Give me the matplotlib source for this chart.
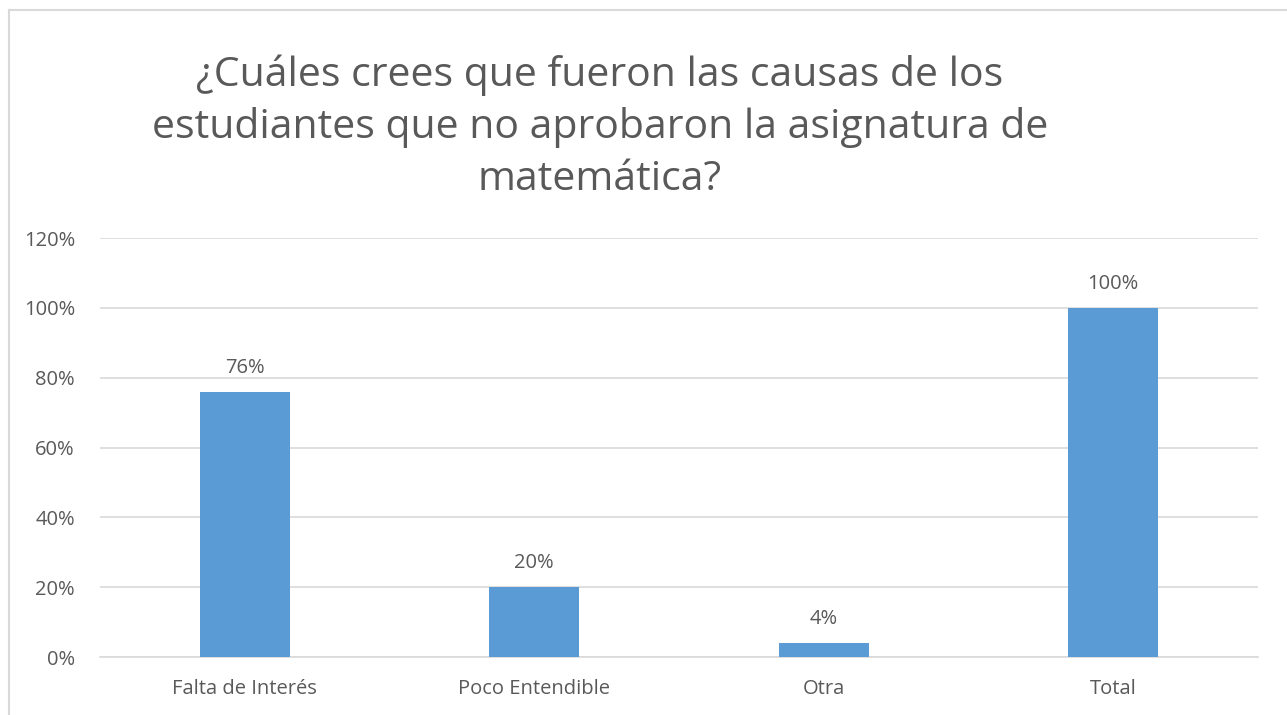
"""
Bar chart: causas de los estudiantes que no aprobaron matemática.
"""
import matplotlib.pyplot as plt
from matplotlib.lines import Line2D
from matplotlib.ticker import FuncFormatter

categories = ["Falta de Interés", "Poco Entendible", "Otra", "Total"]
values = [0.76, 0.20, 0.04, 1.00]
labels = ["76%", "20%", "4%", "100%"]

BAR_COLOR = "#5B9BD5"
TEXT_COLOR = "#595959"
GRID_COLOR = "#D9D9D9"

plt.rcParams["font.family"] = ["Open Sans", "DejaVu Sans"]


def main() -> None:
    fig = plt.figure(figsize=(12.87, 7.15), dpi=100)
    ax = fig.add_axes([0.0777, 0.0811, 0.8998, 0.5859])

    x = range(len(categories))
    ax.bar(x, values, width=0.31, color=BAR_COLOR, zorder=3)
    for xi, v, lab in zip(x, values, labels):
        ax.text(xi, v + 0.04, lab, ha="center", va="bottom",
                fontsize=14.5, color=TEXT_COLOR)

    ax.set_xlim(-0.5, len(categories) - 0.5)
    ax.set_ylim(0, 1.2)
    ax.set_yticks([0, 0.2, 0.4, 0.6, 0.8, 1.0, 1.2])
    ax.yaxis.set_major_formatter(FuncFormatter(lambda v, _: f"{v * 100:.0f}%"))
    ax.set_xticks(list(x))
    ax.set_xticklabels(categories)
    ax.tick_params(axis="both", length=0, labelsize=14.5, colors=TEXT_COLOR)
    ax.tick_params(axis="x", pad=16)
    ax.tick_params(axis="y", pad=18)
    ax.grid(axis="y", color=GRID_COLOR, linewidth=1.2, zorder=0)
    for side in ["top", "right", "left"]:
        ax.spines[side].set_visible(False)
    ax.spines["bottom"].set_color(GRID_COLOR)
    ax.spines["bottom"].set_linewidth(1.2)

    fig.text(0.466, 0.822,
             "¿Cuáles crees que fueron las causas de los\n"
             "estudiantes que no aprobaron la asignatura de\n"
             "matemática?",
             ha="center", va="center", fontsize=29.5, color=TEXT_COLOR,
             linespacing=1.38)

    # light frame on left and top edges
    fig.add_artist(Line2D([0.007, 0.007], [0.0, 0.986], color="#D9D9D9", linewidth=1.5))
    fig.add_artist(Line2D([0.007, 1.0], [0.986, 0.986], color="#D9D9D9", linewidth=1.5))

    fig.savefig("out.png", dpi=100)
    plt.close(fig)


if __name__ == "__main__":
    main()
